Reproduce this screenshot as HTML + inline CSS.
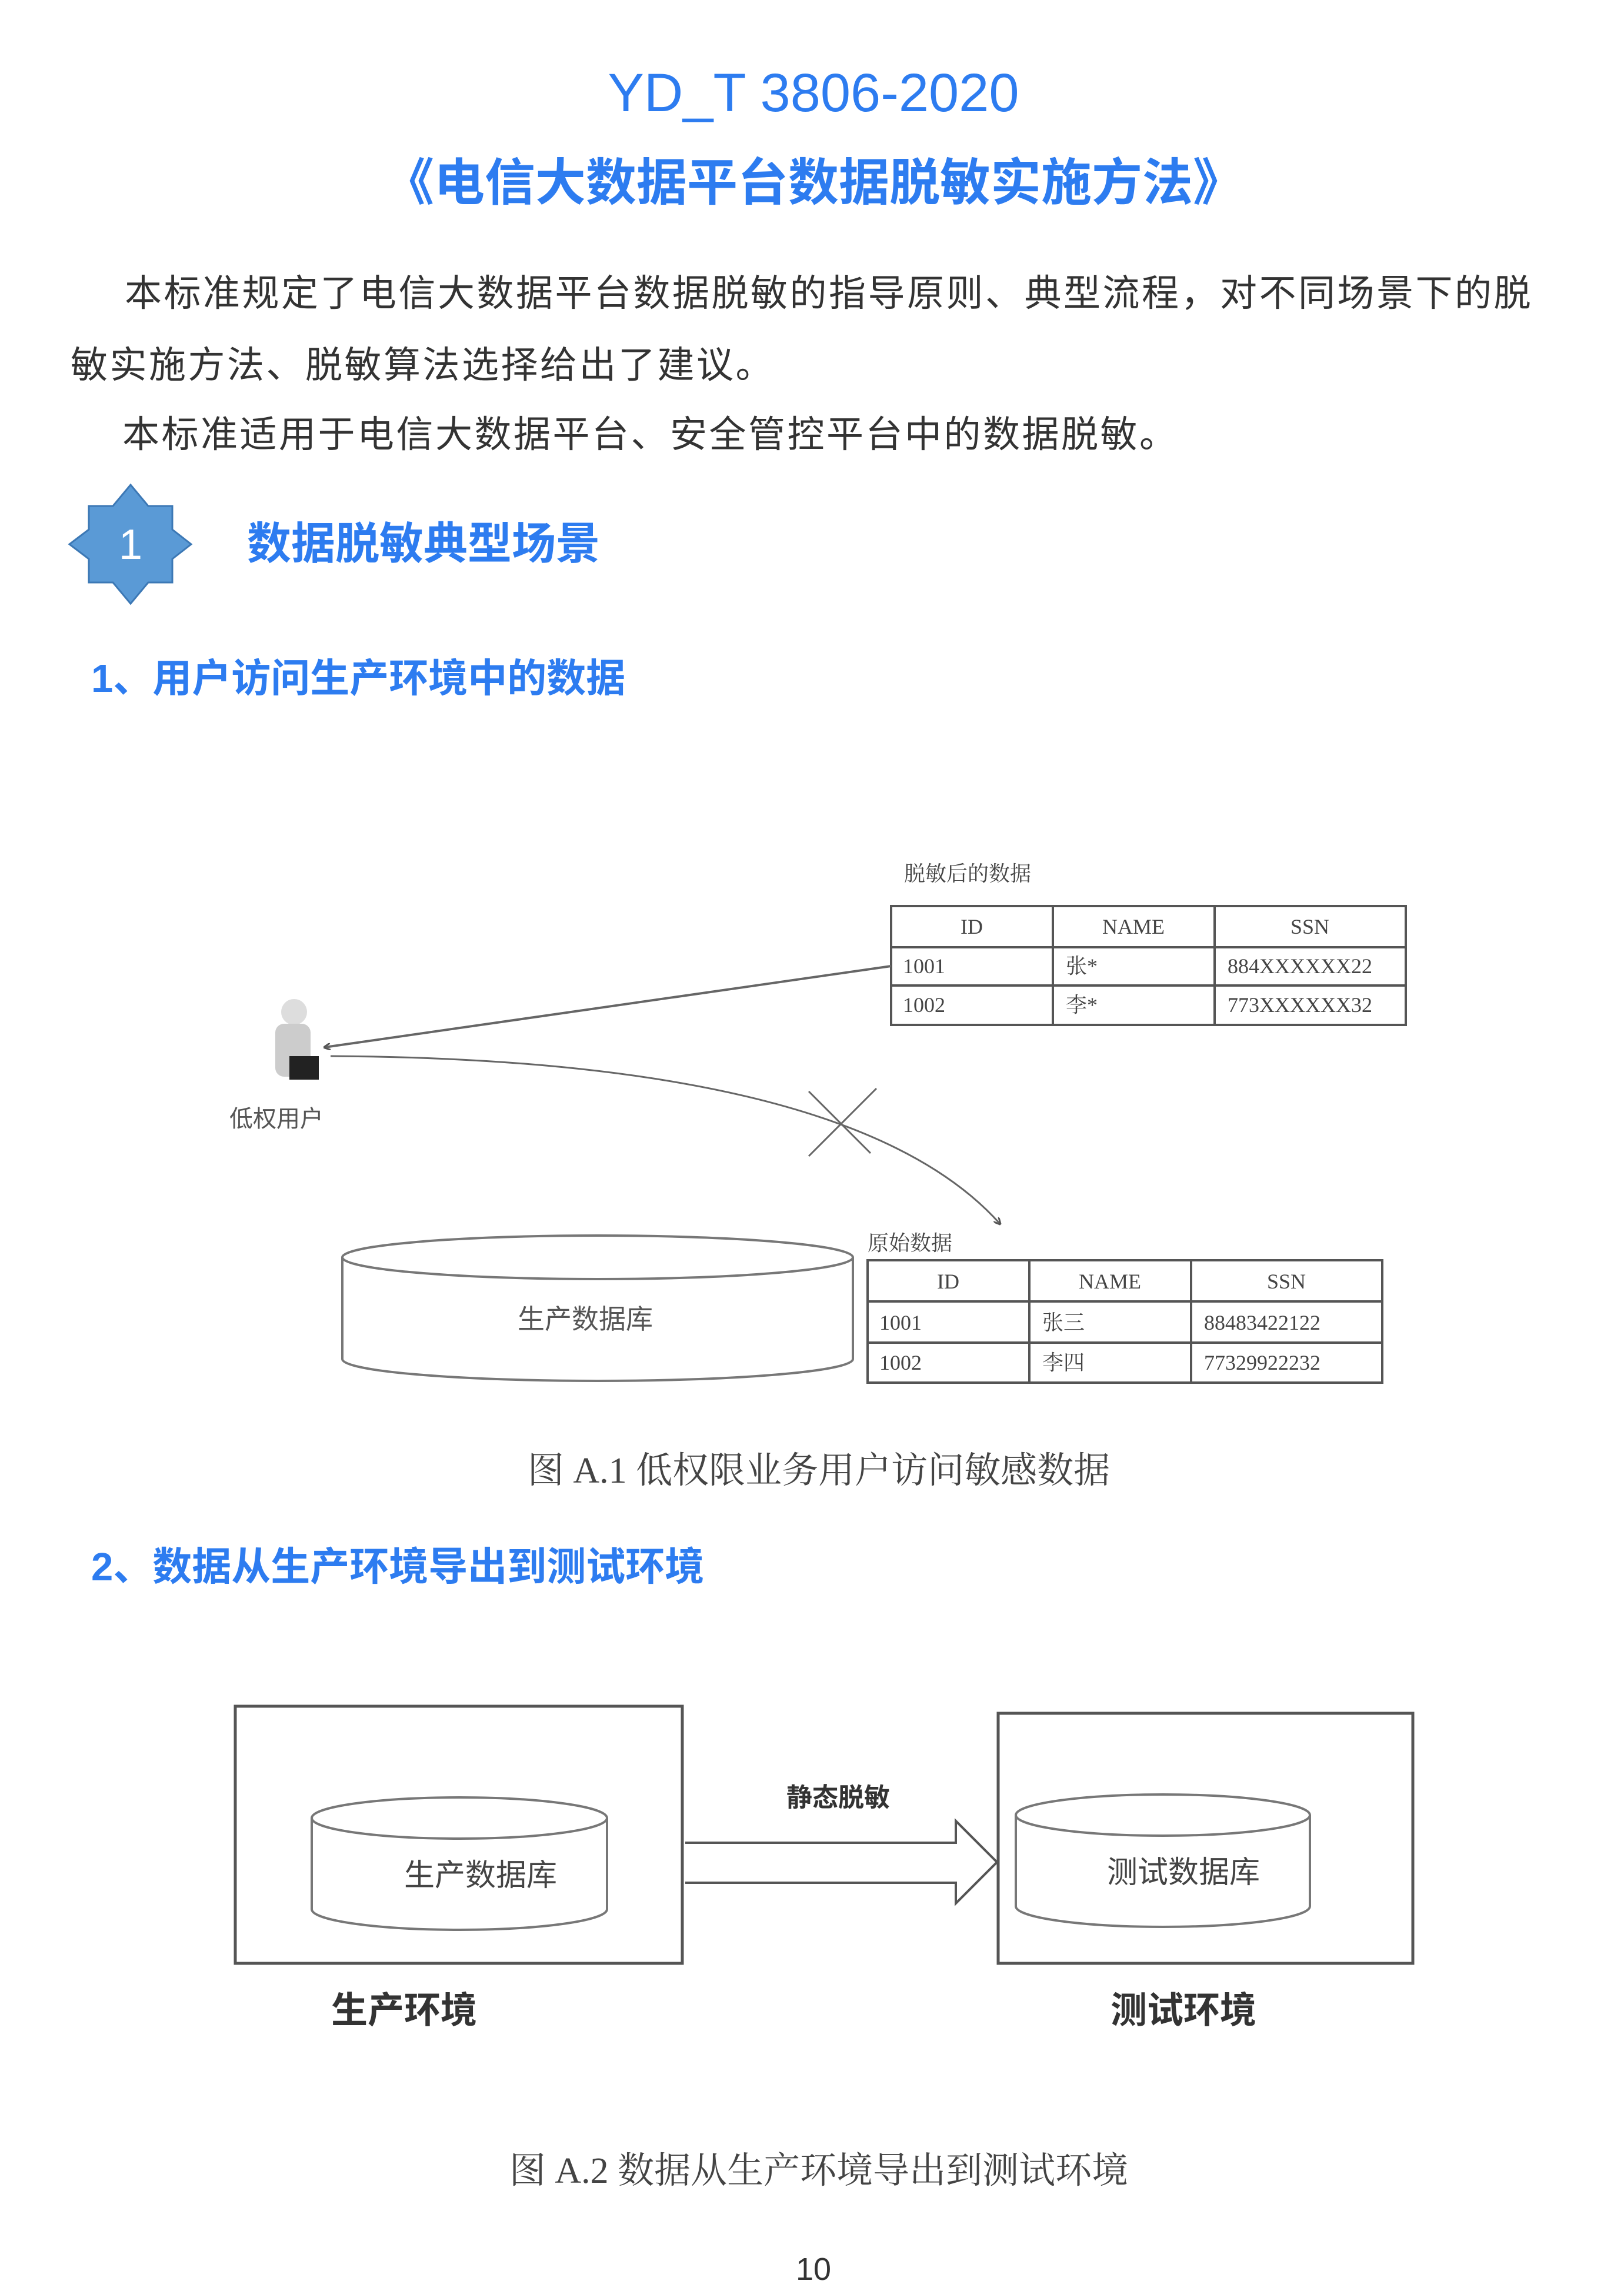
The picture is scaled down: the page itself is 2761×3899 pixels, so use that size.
<!DOCTYPE html>
<html><head><meta charset="utf-8"><style>
body{margin:0;width:2761px;height:3899px;background:#fff;position:relative;overflow:hidden;font-family:"Liberation Sans","Noto Sans CJK SC",sans-serif}
.t{position:absolute;white-space:nowrap;line-height:1}
.b{color:#2d7cf0}
.p{font-size:63px;color:#333;letter-spacing:3.5px}
</style></head><body>
<div class="t b" style="left:0;width:2766px;text-align:center;top:112px;font-size:92px">YD_T 3806-2020</div>
<div class="t b" style="left:0;width:2766px;text-align:center;top:268px;font-size:86px;font-weight:bold">《电信大数据平台数据脱敏实施方法》</div>
<div class="t p" style="left:212px;top:468px">本标准规定了电信大数据平台数据脱敏的指导原则、典型流程，对不同场景下的脱</div>
<div class="t p" style="left:120px;top:590px">敏实施方法、脱敏算法选择给出了建议。</div>
<div class="t p" style="left:208px;top:708px">本标准适用于电信大数据平台、安全管控平台中的数据脱敏。</div>
<svg style="position:absolute;left:110px;top:820px" width="230" height="210" viewBox="0 0 230 210">
<polygon points="112,4 142,40 183,40 183,80 215,105 183,130 183,170 142,170 112,206 82,170 41,170 41,130 8,105 41,80 41,40 82,40" fill="#5a9ad6" stroke="#3c78b5" stroke-width="3"/>
<text x="112" y="130" font-size="72" fill="#fff" text-anchor="middle" font-family="Liberation Sans">1</text>
</svg>
<div class="t b" style="left:420px;top:887px;font-size:75px;font-weight:bold">数据脱敏典型场景</div>
<div class="t b" style="left:155px;top:1120px;font-size:67px;font-weight:bold">1、用户访问生产环境中的数据</div>

<svg style="position:absolute;left:0;top:0" width="2761" height="3899" font-family="Liberation Serif,Noto Serif CJK SC,serif">
<defs><marker id="ar" markerWidth="12" markerHeight="12" refX="10" refY="6" orient="auto" markerUnits="userSpaceOnUse"><path d="M0,0 L12,6 L0,12" fill="none" stroke="#555" stroke-width="3"/></marker></defs>
<text x="1537" y="1497" font-size="36" fill="#444">脱敏后的数据</text>
<g stroke="#555" stroke-width="4" fill="none">
<rect x="1515" y="1540" width="875" height="202"/>
<line x1="1790" y1="1540" x2="1790" y2="1742"/><line x1="2065" y1="1540" x2="2065" y2="1742"/>
<line x1="1515" y1="1610" x2="2390" y2="1610"/><line x1="1515" y1="1675" x2="2390" y2="1675"/>
</g>
<g font-size="36" fill="#444">
<text x="1652" y="1587" text-anchor="middle">ID</text><text x="1927" y="1587" text-anchor="middle">NAME</text><text x="2227" y="1587" text-anchor="middle">SSN</text>
<text x="1535" y="1654">1001</text><text x="1812" y="1654">张*</text><text x="2087" y="1654">884XXXXXX22</text>
<text x="1535" y="1720">1002</text><text x="1812" y="1720">李*</text><text x="2087" y="1720">773XXXXXX32</text>
</g>
<line x1="1515" y1="1642" x2="552" y2="1780" stroke="#666" stroke-width="4" marker-end="url(#ar)"/>
<path d="M562,1795 Q1450,1800 1700,2080" fill="none" stroke="#666" stroke-width="3" marker-end="url(#ar)"/>
<line x1="1375" y1="1855" x2="1480" y2="1960" stroke="#666" stroke-width="3"/>
<line x1="1490" y1="1850" x2="1375" y2="1965" stroke="#666" stroke-width="3"/>
<circle cx="500" cy="1720" r="22" fill="#ddd"/>
<rect x="468" y="1740" width="60" height="90" rx="15" fill="#ccc"/>
<rect x="492" y="1795" width="50" height="40" fill="#222"/>
<text x="470" y="1915" font-size="40" fill="#555" text-anchor="middle" font-family="Liberation Sans,Noto Sans CJK SC,sans-serif">低权用户</text>
<g stroke="#777" stroke-width="4" fill="#fff">
<path d="M582,2137 L582,2310 A434,37 0 0 0 1450,2310 L1450,2137"/>
<ellipse cx="1016" cy="2137" rx="434" ry="37"/>
</g>
<text x="995" y="2258" font-size="46" fill="#555" text-anchor="middle" font-family="Liberation Sans,Noto Sans CJK SC,sans-serif">生产数据库</text>
<text x="1475" y="2125" font-size="36" fill="#444">原始数据</text>
<g stroke="#555" stroke-width="4" fill="none">
<rect x="1475" y="2142" width="875" height="208"/>
<line x1="1750" y1="2142" x2="1750" y2="2350"/><line x1="2025" y1="2142" x2="2025" y2="2350"/>
<line x1="1475" y1="2212" x2="2350" y2="2212"/><line x1="1475" y1="2282" x2="2350" y2="2282"/>
</g>
<g font-size="36" fill="#444">
<text x="1612" y="2190" text-anchor="middle">ID</text><text x="1887" y="2190" text-anchor="middle">NAME</text><text x="2187" y="2190" text-anchor="middle">SSN</text>
<text x="1495" y="2260">1001</text><text x="1772" y="2260">张三</text><text x="2047" y="2260">88483422122</text>
<text x="1495" y="2328">1002</text><text x="1772" y="2328">李四</text><text x="2047" y="2328">77329922232</text>
</g>
<text x="1392" y="2520" font-size="62" fill="#444" text-anchor="middle">图 A.1  低权限业务用户访问敏感数据</text>

<g stroke="#555" stroke-width="5" fill="none">
<rect x="400" y="2900" width="760" height="437"/>
<rect x="1697" y="2912" width="705" height="425"/>
<path d="M1165,3132 L1625,3132 L1625,3095 L1695,3165 L1625,3235 L1625,3200 L1165,3200" stroke-width="4"/>
</g>
<g stroke="#777" stroke-width="4" fill="#fff">
<path d="M530,3090 L530,3245 A251,35 0 0 0 1032,3245 L1032,3090"/>
<ellipse cx="781" cy="3090" rx="251" ry="35"/>
<path d="M1727,3085 L1727,3240 A250,35 0 0 0 2227,3240 L2227,3085"/>
<ellipse cx="1977" cy="3085" rx="250" ry="35"/>
</g>
<g font-family="Liberation Sans,Noto Sans CJK SC,sans-serif" text-anchor="middle">
<text x="817" y="3205" font-size="52" fill="#444">生产数据库</text>
<text x="2012" y="3200" font-size="52" fill="#444">测试数据库</text>
<text x="1425" y="3070" font-size="44" fill="#333" font-weight="bold">静态脱敏</text>
<text x="687" y="3438" font-size="62" fill="#333" font-weight="bold">生产环境</text>
<text x="2012" y="3438" font-size="62" fill="#333" font-weight="bold">测试环境</text>
</g>
<text x="1392" y="3710" font-size="62" fill="#444" text-anchor="middle">图 A.2  数据从生产环境导出到测试环境</text>
</svg>
<div class="t b" style="left:155px;top:2630px;font-size:67px;font-weight:bold">2、数据从生产环境导出到测试环境</div>
<div class="t" style="left:0;width:2766px;text-align:center;top:3830px;font-size:54px;color:#333">10</div>
</body></html>
